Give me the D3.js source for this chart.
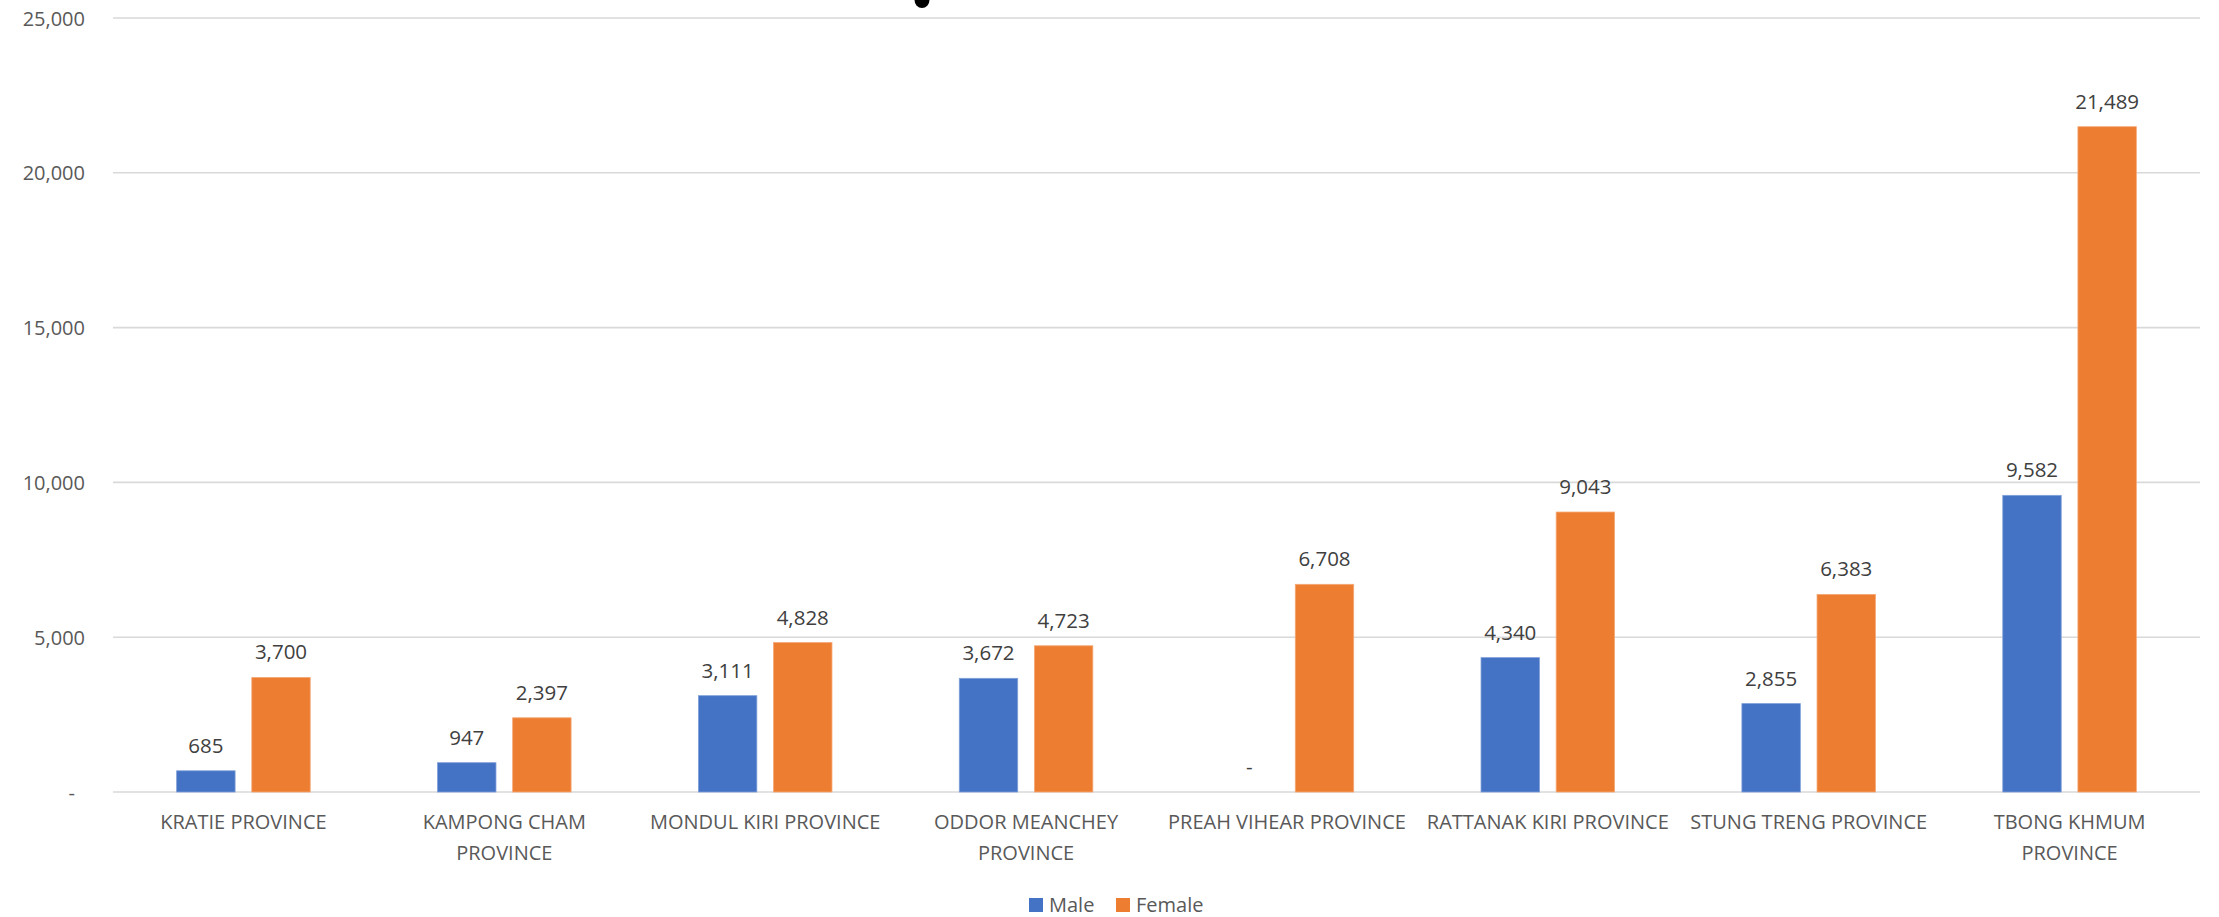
<!DOCTYPE html>
<html>
<head>
<meta charset="utf-8">
<script src="https://cdn.jsdelivr.net/npm/d3@7"></script>
<style>
  html, body { margin: 0; padding: 0; background: #ffffff; }
  svg { display: block; font-family: "Open Sans", "Noto Sans", sans-serif; }
</style>
</head>
<body>
<svg id="chart" width="2219" height="917"></svg>
<script>
// Province labels (line-wrapped as shown on the axis)
const provinces = [
  ["KRATIE PROVINCE"],
  ["KAMPONG CHAM", "PROVINCE"],
  ["MONDUL KIRI PROVINCE"],
  ["ODDOR MEANCHEY", "PROVINCE"],
  ["PREAH VIHEAR PROVINCE"],
  ["RATTANAK KIRI PROVINCE"],
  ["STUNG TRENG PROVINCE"],
  ["TBONG KHMUM", "PROVINCE"]
];
const seriesNames = ["Male", "Female"];
const maleValues   = [685, 947, 3111, 3672, 0, 4340, 2855, 9582];
const femaleValues = [3700, 2397, 4828, 4723, 6708, 9043, 6383, 21489];
const yTicks = [0, 5000, 10000, 15000, 20000, 25000];
const seriesColors = ["#4472C4", "#ED7D31"];

const svg = d3.select("#chart");
const plot = { left: 113, right: 2200, top: 18, bottom: 792 };

const x = d3.scaleBand()
  .domain(d3.range(provinces.length))
  .range([plot.left, plot.right])
  .padding(0);

const y = d3.scaleLinear()
  .domain([0, 25000])
  .range([plot.bottom, plot.top]);

const bw = x.bandwidth();
const barW = bw * 0.224;
const innerGap = bw * 0.064;
const x1 = d3.scaleOrdinal()
  .domain([0, 1])
  .range([-innerGap / 2 - barW, innerGap / 2]);

const fmt = v => v === 0 ? "-" : d3.format(",")(v);
const textColor = "#595959";

// Horizontal gridlines
svg.append("g")
  .selectAll("line")
  .data(yTicks)
  .join("line")
  .attr("x1", plot.left)
  .attr("x2", plot.right)
  .attr("y1", d => y(d))
  .attr("y2", d => y(d))
  .attr("stroke", "#d9d9d9")
  .attr("stroke-width", 1.6);

// Y axis labels (accounting style: zero shown as a dash)
const yAxis = d3.axisLeft(y)
  .tickValues(yTicks)
  .tickSize(0)
  .tickPadding(0)
  .tickFormat(d => d === 0 ? "-" : d3.format(",")(d));

const yg = svg.append("g")
  .attr("transform", `translate(85,0)`)
  .call(yAxis);
yg.select(".domain").remove();
yg.selectAll("text")
  .attr("fill", textColor)
  .attr("font-size", 20)
  .attr("font-family", "'Open Sans', sans-serif")
  .attr("dy", "0.35em")
  .attr("x", d => d === 0 ? -10 : 0);

// Bars and value labels
const series = [maleValues, femaleValues];
series.forEach((vals, si) => {
  const g = svg.append("g");
  g.selectAll("rect")
    .data(vals)
    .join("rect")
    .attr("x", (d, i) => x(i) + bw / 2 + x1(si))
    .attr("y", d => y(d))
    .attr("width", barW)
    .attr("height", d => y(0) - y(d))
    .attr("fill", seriesColors[si])
    .attr("stroke", si === 0 ? "#7f9fd9" : "#f4a877")
    .attr("stroke-width", 0.8);

  g.selectAll("text")
    .data(vals)
    .join("text")
    .attr("x", (d, i) => x(i) + bw / 2 + x1(si) + barW / 2)
    .attr("y", d => y(d) - 18)
    .attr("text-anchor", "middle")
    .attr("fill", "#404040")
    .attr("font-size", 20.5)
    .text(d => fmt(d));
});

// Category labels
const cat = svg.append("g");
provinces.forEach((lines, i) => {
  const t = cat.append("text")
    .attr("x", x(i) + bw / 2)
    .attr("y", 829)
    .attr("text-anchor", "middle")
    .attr("fill", textColor)
    .attr("font-size", 20);
  lines.forEach((ln, k) => {
    t.append("tspan")
      .attr("x", x(i) + bw / 2)
      .attr("dy", k === 0 ? 0 : 31)
      .text(ln);
  });
});

// Legend
const legend = svg.append("g").attr("transform", "translate(1029,898)");
const legendOffsets = [0, 87];
seriesNames.forEach((name, i) => {
  const lg = legend.append("g").attr("transform", `translate(${legendOffsets[i]},0)`);
  lg.append("rect")
    .attr("width", 14)
    .attr("height", 14)
    .attr("fill", seriesColors[i]);
  lg.append("text")
    .attr("x", 20)
    .attr("y", 14)
    .attr("fill", textColor)
    .attr("font-size", 20)
    .text(name);
});

// Clipped title glyph fragment at the top edge
svg.append("ellipse")
  .attr("cx", 922)
  .attr("cy", 0)
  .attr("rx", 7.5)
  .attr("ry", 8)
  .attr("fill", "#000000");
</script>
</body>
</html>
